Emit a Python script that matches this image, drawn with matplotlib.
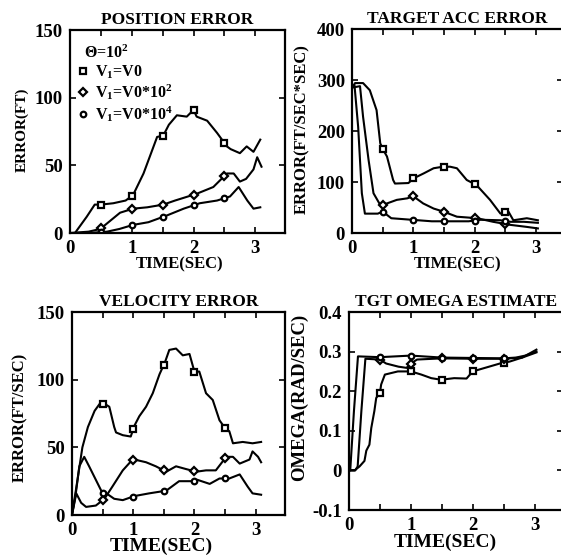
import numpy as np
import matplotlib
matplotlib.use("Agg")
import matplotlib.pyplot as plt
from matplotlib.ticker import MultipleLocator, FixedLocator

plt.rcParams['font.family'] = ['Liberation Serif', 'DejaVu Serif']
plt.rcParams['font.weight'] = 'bold'
plt.rcParams['mathtext.fontset'] = 'custom'
plt.rcParams['mathtext.rm'] = 'Liberation Serif:bold'
plt.rcParams['mathtext.default'] = 'rm'

# marker times (sec)
mark_t = [0.5, 1.0, 1.5, 2.0, 2.5]

# ---- position error (ft) ----
pos_t_a = [0, 0.08, 0.27, 0.4, 0.5, 0.7, 0.9, 1.02, 1.19, 1.41, 1.51, 1.6, 1.73, 1.89, 2.0, 2.05,
           2.22, 2.38, 2.54, 2.6, 2.75, 2.86, 2.97, 3.08]
pos_v_a = [0, 0, 12, 21, 21, 22, 24, 28, 44, 71, 72, 80, 87, 86, 91, 86, 83, 74, 64, 62, 59, 64, 60, 69]
pos_t_b = [0, 0.3, 0.49, 0.65, 0.81, 1.02, 1.25, 1.51, 1.7, 1.84, 2.05, 2.32, 2.54, 2.65, 2.75, 2.85,
           2.97, 3.03, 3.1]
pos_v_b = [0, 1, 3, 9, 15, 18, 19, 21, 24, 26, 29, 34, 44, 44, 38, 40, 47, 56, 49]
pos_t_c = [0, 0.3, 0.6, 0.8, 1.02, 1.27, 1.57, 1.84, 2.1, 2.38, 2.59, 2.73, 2.87, 2.97, 3.08]
pos_v_c = [0, 0, 1, 3, 6, 8, 13, 18, 22, 24, 27, 34, 24, 18, 19]

# ---- target acc error (ft/sec*sec) ----
acc_t_a = [0, 0.05, 0.18, 0.29, 0.4, 0.46, 0.5, 0.57, 0.67, 0.7, 0.92, 1.0, 1.17, 1.33, 1.48, 1.6,
           1.71, 1.87, 2.03, 2.25, 2.42, 2.55, 2.63, 2.85, 3.03]
acc_v_a = [285, 294, 294, 280, 241, 176, 165, 150, 104, 97, 98, 107, 117, 127, 130, 130, 127, 104, 94,
           65, 38, 42, 25, 29, 25]
acc_t_b = [0, 0.13, 0.18, 0.27, 0.35, 0.46, 0.5, 0.73, 0.9, 1.0, 1.16, 1.33, 1.49, 1.71, 2.04, 2.3,
           2.58, 2.85, 3.03]
acc_v_b = [285, 288, 228, 143, 78, 55, 55, 65, 68, 72, 58, 48, 42, 32, 29, 22, 16, 12, 9]
acc_t_c = [0, 0.04, 0.1, 0.16, 0.21, 0.42, 0.5, 0.64, 0.97, 1.3, 1.57, 1.9, 2.1, 2.42, 2.58, 2.8, 3.03]
acc_v_c = [285, 290, 208, 78, 38, 38, 42, 29, 26, 23, 23, 23, 26, 25, 22, 22, 20]

# ---- velocity error (ft/sec) ----
vel_t_a = [0, 0.09, 0.17, 0.26, 0.37, 0.45, 0.54, 0.61, 0.69, 0.72, 0.83, 0.96, 1.02, 1.1, 1.21, 1.32,
           1.43, 1.52, 1.59, 1.7, 1.81, 1.92, 2.0, 2.08, 2.19, 2.3, 2.41, 2.52, 2.57, 2.63, 2.79, 2.95, 3.09]
vel_v_a = [0, 26, 50, 65, 77, 82, 82, 80, 65, 61, 59, 58, 66, 73, 80, 90, 104, 113, 122, 123, 118, 119,
           106, 106, 90, 85, 70, 63, 62, 53, 54, 53, 54]
vel_t_b = [0, 0.07, 0.15, 0.23, 0.39, 0.53, 0.66, 0.83, 0.99, 1.02, 1.21, 1.37, 1.54, 1.7, 1.86, 2.03,
           2.19, 2.35, 2.52, 2.63, 2.74, 2.9, 2.95, 3.04, 3.09]
vel_v_b = [0, 16, 9, 6, 7, 12, 21, 33, 41, 41, 39, 36, 32, 36, 34, 32, 33, 33, 43, 43, 38, 41, 47, 43, 39]
vel_t_c = [0, 0.06, 0.12, 0.2, 0.28, 0.39, 0.5, 0.53, 0.69, 0.83, 1.02, 1.26, 1.54, 1.75, 1.97, 2.05,
           2.25, 2.41, 2.57, 2.74, 2.87, 2.95, 3.09]
vel_v_c = [0, 15, 36, 43, 36, 26, 16, 17, 12, 11, 14, 16, 18, 25, 25, 26, 23, 27, 27, 30, 21, 16, 15]

# ---- target omega estimate (rad/sec) ----
om_t_a = [0, 0.09, 0.17, 0.25, 0.28, 0.33, 0.36, 0.41, 0.44, 0.5, 0.52, 0.58, 0.79, 1.0, 1.17, 1.33,
          1.49, 1.7, 1.9, 2.0, 2.22, 2.44, 2.6, 2.8, 3.03]
om_v_a = [0, 0, 0.01, 0.024, 0.05, 0.065, 0.107, 0.15, 0.183, 0.196, 0.217, 0.242, 0.25, 0.25, 0.242,
          0.233, 0.229, 0.233, 0.232, 0.25, 0.26, 0.27, 0.275, 0.285, 0.305]
om_t_b = [0, 0.1, 0.14, 0.2, 0.265, 0.5, 0.6, 0.8, 0.93, 1.0, 1.1, 1.5, 2.0, 2.5, 2.8, 3.03]
om_v_b = [0, 0, 0.01, 0.15, 0.282, 0.28, 0.27, 0.262, 0.259, 0.27, 0.28, 0.283, 0.282, 0.282, 0.285, 0.298]
om_t_c = [0, 0.02, 0.08, 0.145, 0.5, 1.0, 1.5, 2.0, 2.5, 2.7, 2.85, 3.03]
om_v_c = [0, 0, 0.15, 0.288, 0.286, 0.29, 0.285, 0.284, 0.283, 0.285, 0.29, 0.3]

labels = ['V$_1$=V0', 'V$_1$=V0*10$^2$', 'V$_1$=V0*10$^4$']
markers = ['s', 'D', 'o']


def style_axes(ax, xmax, ylim, yticks, yticklabels, title, ylabel, ylab_size, ylab_xy,
               xlab_xy, xlab_size):
    ax.set_xlim(0, xmax)
    ax.set_ylim(*ylim)
    ax.xaxis.set_major_locator(FixedLocator([0, 1, 2, 3]))
    ax.xaxis.set_minor_locator(MultipleLocator(0.5))
    ax.set_yticks(yticks)
    ax.set_yticklabels(yticklabels)
    ax.tick_params(which='both', direction='in', top=True, right=True, width=1.2, length=4,
                   labelsize=13.5, pad=5)
    ax.tick_params(which='minor', left=False, right=False)
    for sp in ax.spines.values():
        sp.set_linewidth(1.6)
    ax.set_title(title, fontsize=12.5, fontweight='bold', pad=4)
    ax.set_ylabel(ylabel, fontsize=ylab_size, fontweight='bold')
    ax.yaxis.set_label_coords(*ylab_xy)
    ax.set_xlabel('TIME(SEC)', fontsize=xlab_size, fontweight='bold')
    ax.xaxis.set_label_coords(*xlab_xy)


def draw_curves(ax, series):
    handles = []
    for (t, v), m, lab in zip(series, markers, labels):
        ax.plot(t, v, color='black', lw=1.5)
        mv = np.interp(mark_t, t, v)
        h, = ax.plot(mark_t, mv, ls='none', marker=m, ms=4.5 if m != 'o' else 4,
                     mfc='white', mec='black', mew=1.6, label=lab)
        handles.append(h)
    return handles


fig = plt.figure(figsize=(5.61, 5.56), dpi=100)

ax1 = fig.add_axes([0.1248, 0.5809, 0.3832, 0.3651])
ax2 = fig.add_axes([0.6275, 0.5809, 0.3761, 0.3669])
ax3 = fig.add_axes([0.1283, 0.0737, 0.3797, 0.3651])
ax4 = fig.add_axes([0.6221, 0.0827, 0.3815, 0.3561])

h = draw_curves(ax1, [(pos_t_a, pos_v_a), (pos_t_b, pos_v_b), (pos_t_c, pos_v_c)])
style_axes(ax1, 3.48, (0, 150), [0, 50, 100, 150], ['0', '50', '100', '150'],
           'POSITION ERROR', 'ERROR(FT)', 11, (-0.19, 0.51), (0.51, -0.115), 12)
leg = ax1.legend(handles=h, title='  \u0398=10$^2$', loc='upper left', bbox_to_anchor=(0.03, 0.93),
                 frameon=False, borderaxespad=0, handlelength=0.8, handletextpad=0.35,
                 labelspacing=0.12, fontsize=11.5, title_fontsize=11.5, alignment='left',
                 borderpad=0)
leg.get_title().set_fontweight('bold')

draw_curves(ax2, [(acc_t_a, acc_v_a), (acc_t_b, acc_v_b), (acc_t_c, acc_v_c)])
style_axes(ax2, 3.44, (0, 400), [0, 100, 200, 300, 400], ['0', '100', '200', '300', '400'],
           'TARGET ACC ERROR', 'ERROR(FT/SEC*SEC)', 12, (-0.2, 0.51), (0.5, -0.115), 12)

draw_curves(ax3, [(vel_t_a, vel_v_a), (vel_t_b, vel_v_b), (vel_t_c, vel_v_c)])
style_axes(ax3, 3.48, (0, 150), [0, 50, 100, 150], ['0', '50', '100', '150'],
           'VELOCITY ERROR', 'ERROR(FT/SEC)', 12, (-0.207, 0.48), (0.42, -0.11), 14)

draw_curves(ax4, [(om_t_a, om_v_a), (om_t_b, om_v_b), (om_t_c, om_v_c)])
style_axes(ax4, 3.46, (-0.1, 0.4), [-0.1, 0, 0.1, 0.2, 0.3, 0.4],
           ['-0.1', '0', '0.1', '0.2', '0.3', '0.4'],
           'TGT OMEGA ESTIMATE', 'OMEGA(RAD/SEC)', 13.5, (-0.19, 0.57), (0.45, -0.12), 14)

fig.savefig('out.png', dpi=100)
